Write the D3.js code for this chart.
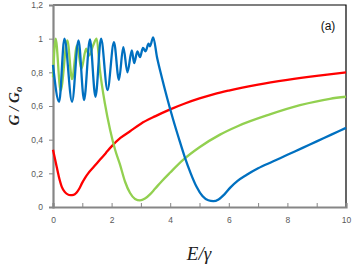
<!DOCTYPE html>
<html>
<head>
<meta charset="utf-8">
<title>G / Go vs E/gamma</title>
<script src="https://cdn.jsdelivr.net/npm/d3@7"></script>
<style>
body { margin: 0; background: #fff; }
.tick text { font-family: "Liberation Sans", Arial, sans-serif; font-size: 8.5px; fill: #595959; }
</style>
</head>
<body>
<script>
// values
var xTicks = [0, 1, 2, 3, 4, 5, 6, 7, 8, 9, 10];
var yTicks = [0, 0.2, 0.4, 0.6, 0.8, 1, 1.2];
var yTickLabels = ["0", "0,2", "0,4", "0,6", "0,8", "1", "1,2"];

var blueE = [0, 0.21, 0.39, 0.65, 0.87, 1.06, 1.26, 1.45, 1.64, 1.86, 2.08, 2.25, 2.40, 2.54, 2.69, 2.77, 2.88, 2.97, 3.07, 3.16, 3.26, 3.31, 3.42, 3.55, 3.7, 3.9, 4.1, 4.3, 4.5, 4.7, 4.9, 5.1, 5.3, 5.47, 5.65, 5.85, 6.05, 6.3, 6.6, 7.0, 7.5, 8.0, 8.5, 9.0, 9.5, 10];
var blueG = [0.845, 0.625, 1.0, 0.625, 0.99, 0.635, 0.995, 0.655, 1.0, 0.695, 0.98, 0.755, 0.95, 0.80, 0.93, 0.855, 0.925, 0.89, 0.945, 0.925, 0.97, 0.955, 1.008, 0.89, 0.78, 0.645, 0.52, 0.405, 0.295, 0.2, 0.12, 0.065, 0.04, 0.035, 0.045, 0.075, 0.115, 0.155, 0.19, 0.23, 0.27, 0.31, 0.35, 0.39, 0.43, 0.47];

var redE = [0, 0.1, 0.2, 0.3, 0.4, 0.5, 0.6, 0.7, 0.8, 0.9, 1.0, 1.1, 1.2, 1.4, 1.6, 1.8, 2.0, 2.3, 2.63, 3.0, 3.5, 4.0, 4.5, 5.0, 5.5, 6.0, 7.0, 8.0, 9.0, 10];
var redG = [0.34, 0.26, 0.18, 0.12, 0.09, 0.075, 0.07, 0.072, 0.085, 0.11, 0.145, 0.175, 0.2, 0.24, 0.28, 0.32, 0.36, 0.41, 0.45, 0.495, 0.54, 0.58, 0.615, 0.645, 0.671, 0.692, 0.727, 0.755, 0.779, 0.80];

var greenE = [0, 0.09, 0.26, 0.49, 0.65, 0.82, 0.97, 1.13, 1.23, 1.37, 1.49, 1.6, 1.77, 1.95, 2.12, 2.29, 2.46, 2.63, 2.8, 2.97, 3.14, 3.31, 3.48, 3.72, 4.0, 4.44, 5.0, 5.7, 6.3, 7.4, 8.43, 9.45, 10];
var greenG = [0.77, 1.0, 0.69, 0.99, 0.76, 0.96, 0.82, 0.94, 0.90, 0.96, 1.0, 0.815, 0.616, 0.458, 0.34, 0.25, 0.15, 0.083, 0.048, 0.039, 0.05, 0.075, 0.108, 0.155, 0.205, 0.28, 0.355, 0.43, 0.48, 0.55, 0.605, 0.643, 0.655];

var w = 354, h = 273;
var plotL = 53, plotR = 346, plotT = 5, plotB = 207;

var svg = d3.select("body").append("svg")
  .attr("width", w)
  .attr("height", h);

var x = d3.scaleLinear().domain([0, 10]).range([plotL, plotR]);
var y = d3.scaleLinear().domain([0, 1.2]).range([plotB, plotT]);

// frame: top and right thin black
svg.append("path")
  .attr("d", "M" + plotL + "," + plotT + "H" + plotR + "V" + plotB)
  .attr("fill", "none")
  .attr("stroke", "#000")
  .attr("stroke-width", 1.2);

// bottom axis, ticks inside
var xAxis = svg.append("g")
  .attr("transform", "translate(0," + plotB + ")")
  .call(d3.axisBottom(x).tickValues(xTicks).tickSize(-4).tickPadding(10)
    .tickFormat(function(d){ return d % 2 === 0 ? d : ""; }));
xAxis.select(".domain").attr("stroke", "#868686").attr("stroke-width", 2.2);
xAxis.selectAll(".tick line").attr("stroke", "#868686");

// left axis, ticks outside
var yAxis = svg.append("g")
  .attr("transform", "translate(" + plotL + ",0)")
  .call(d3.axisLeft(y).tickValues(yTicks).tickSize(4).tickPadding(6)
    .tickFormat(function(d, i){ return yTickLabels[i]; }));
yAxis.select(".domain").attr("stroke", "#868686").attr("stroke-width", 2.2);
yAxis.selectAll(".tick line").attr("stroke", "#868686");

var line = d3.line()
  .x(function(d){ return x(d[0]); })
  .y(function(d){ return y(d[1]); })
  .curve(d3.curveMonotoneX);

var series = [
  { e: redE, g: redG, color: "#ff0000" },
  { e: greenE, g: greenG, color: "#92d050" },
  { e: blueE, g: blueG, color: "#0070c0" }
];

series.forEach(function(s){
  svg.append("path")
    .datum(d3.zip(s.e, s.g))
    .attr("fill", "none")
    .attr("stroke", s.color)
    .attr("stroke-width", 2.3)
    .attr("stroke-linejoin", "round")
    .attr("d", line);
});

// axis titles
var yt = svg.append("text")
  .attr("transform", "translate(19," + ((plotT + plotB) / 2) + ") rotate(-90)")
  .attr("text-anchor", "middle")
  .attr("font-family", "Liberation Serif, serif")
  .attr("font-style", "italic")
  .attr("font-weight", "bold")
  .attr("font-size", "15px")
  .attr("fill", "#222");
yt.append("tspan").text("G / G");
yt.append("tspan").attr("font-size", "11px").attr("dy", 3).text("o");

svg.append("text")
  .attr("x", 199)
  .attr("y", 260)
  .attr("text-anchor", "middle")
  .attr("font-family", "Liberation Serif, serif")
  .attr("font-style", "italic")
  .attr("font-size", "19px")
  .attr("fill", "#222")
  .text("E/γ");

svg.append("text")
  .attr("x", 328)
  .attr("y", 30)
  .attr("text-anchor", "middle")
  .attr("font-family", "Liberation Sans, Arial, sans-serif")
  .attr("font-size", "12px")
  .attr("fill", "#111")
  .text("(a)");
</script>
</body>
</html>
